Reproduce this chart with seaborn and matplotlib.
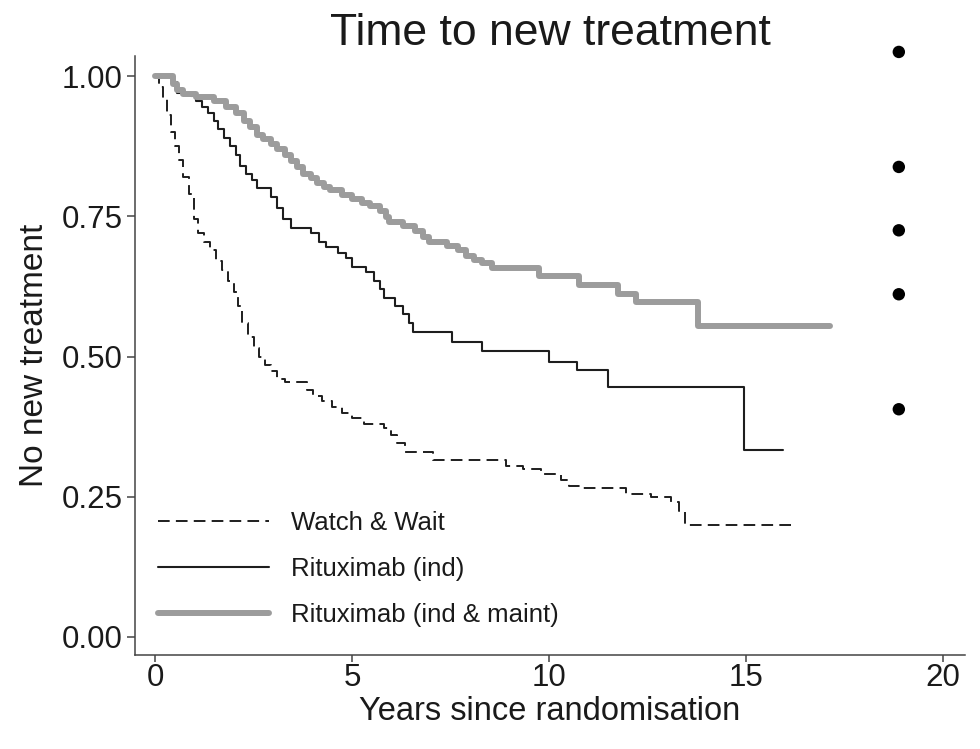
import matplotlib
matplotlib.use("Agg")
import matplotlib.pyplot as plt
import seaborn as sns
import pandas as pd

# Kaplan-Meier estimates: time (years) and proportion without new treatment
ww_time = [0.0, 0.1, 0.2, 0.3, 0.4, 0.5, 0.6, 0.7, 0.85, 1.0, 1.1, 1.25, 1.4, 1.55,
           1.7, 1.85, 2.0, 2.1, 2.2, 2.35, 2.5, 2.65, 2.8, 2.95, 3.1, 3.3, 3.85, 4.0,
           4.25, 4.5, 4.75, 5.0, 5.3, 5.8, 6.0, 6.15, 6.35, 7.05, 8.9, 9.35, 9.8,
           10.3, 10.5, 10.8, 11.95, 12.6, 13.1, 13.3, 13.45, 16.2]
ww_surv = [1.00, 0.98, 0.96, 0.93, 0.90, 0.875, 0.85, 0.82, 0.79, 0.745, 0.72, 0.705,
           0.69, 0.67, 0.655, 0.635, 0.615, 0.59, 0.56, 0.535, 0.515, 0.50, 0.485,
           0.475, 0.46, 0.455, 0.44, 0.43, 0.42, 0.41, 0.40, 0.39, 0.38, 0.372, 0.36,
           0.345, 0.33, 0.315, 0.305, 0.30, 0.29, 0.28, 0.27, 0.265, 0.255, 0.25,
           0.24, 0.225, 0.20, 0.20]

ri_time = [0.0, 0.45, 0.55, 0.9, 1.05, 1.2, 1.35, 1.5, 1.6, 1.75, 1.9, 2.05, 2.15,
           2.3, 2.45, 2.6, 2.95, 3.1, 3.25, 3.45, 3.95, 4.15, 4.35, 4.65, 4.85, 5.0,
           5.35, 5.55, 5.7, 5.8, 6.1, 6.3, 6.45, 6.55, 7.55, 8.3, 10.0, 10.7, 11.5,
           14.95, 15.95]
ri_surv = [1.00, 0.99, 0.97, 0.965, 0.955, 0.945, 0.935, 0.92, 0.905, 0.89, 0.875,
           0.86, 0.84, 0.825, 0.815, 0.80, 0.785, 0.765, 0.745, 0.73, 0.72, 0.705,
           0.695, 0.685, 0.675, 0.66, 0.65, 0.635, 0.62, 0.605, 0.59, 0.575, 0.56,
           0.543, 0.525, 0.51, 0.49, 0.476, 0.445, 0.333, 0.333]

rm_time = [0.0, 0.45, 0.55, 0.7, 1.05, 1.5, 1.8, 2.05, 2.25, 2.4, 2.6, 2.75, 2.95,
           3.1, 3.3, 3.45, 3.6, 3.75, 3.95, 4.1, 4.3, 4.45, 4.75, 5.0, 5.25, 5.45,
           5.7, 5.85, 5.95, 6.3, 6.6, 6.8, 6.95, 7.4, 7.7, 7.9, 8.1, 8.3, 8.55, 9.75,
           10.75, 11.75, 12.2, 13.78, 17.13]
rm_surv = [1.00, 0.985, 0.975, 0.968, 0.962, 0.955, 0.945, 0.935, 0.92, 0.91, 0.895,
           0.888, 0.878, 0.87, 0.86, 0.848, 0.838, 0.826, 0.818, 0.81, 0.803, 0.796,
           0.788, 0.781, 0.774, 0.768, 0.76, 0.748, 0.74, 0.733, 0.724, 0.713, 0.705,
           0.697, 0.69, 0.68, 0.672, 0.666, 0.658, 0.643, 0.628, 0.612, 0.598, 0.555,
           0.555]

series_labels = ["Watch & Wait", "Rituximab (ind)", "Rituximab (ind & maint)"]

# bullet markers at the right-hand side
bullet_x = [18.88, 18.88, 18.88, 18.88, 18.88]
bullet_y = [1.043, 0.838, 0.725, 0.611, 0.406]

x_ticks = [0, 5, 10, 15, 20]
y_ticks = [0.00, 0.25, 0.50, 0.75, 1.00]

sns.set_theme(style="ticks")
plt.rcParams["font.family"] = ["Liberation Sans", "DejaVu Sans"]
text_col = "#1a1a1a"

fig = plt.figure(figsize=(9.8, 7.49), dpi=100)
ax = fig.add_axes([0.1378, 0.1255, 0.8469, 0.7997])

styles = [
    dict(color="#1e1e1e", linewidth=1.4, linestyle=(0, (6, 3.2))),
    dict(color="#1e1e1e", linewidth=1.5, linestyle="-"),
    dict(color="#9c9c9c", linewidth=4.3, linestyle="-"),
]
for t, s, lab, st in zip([ww_time, ri_time, rm_time],
                         [ww_surv, ri_surv, rm_surv],
                         series_labels, styles):
    df = pd.DataFrame({"time": t, "surv": s})
    sns.lineplot(data=df, x="time", y="surv", ax=ax, drawstyle="steps-post",
                 label=lab, **st)

sns.scatterplot(x=bullet_x, y=bullet_y, ax=ax, color="black", s=80,
                edgecolor="none", clip_on=False, legend=False)

ax.set_xlim(-0.508, 20.56)
ax.set_ylim(-0.0321, 1.0357)
ax.set_xticks(x_ticks)
ax.set_xticklabels([str(v) for v in x_ticks])
ax.set_yticks(y_ticks)
ax.set_yticklabels([f"{v:.2f}" for v in y_ticks])

sns.despine(ax=ax)
for side in ("left", "bottom"):
    ax.spines[side].set_color("#444444")
    ax.spines[side].set_linewidth(1.1)
ax.tick_params(axis="both", direction="out", length=6, width=1.1,
               color="#444444", labelsize=22.5, labelcolor=text_col, pad=3)
ax.tick_params(axis="x", length=5, pad=1)

ax.set_xlabel("Years since randomisation", fontsize=23.5, color=text_col, labelpad=2)
ax.set_ylabel("No new treatment", fontsize=24, color=text_col, labelpad=8)
ax.set_title("Time to new treatment", fontsize=32, color=text_col, pad=8)

leg = ax.legend(loc="lower left", bbox_to_anchor=(0.0277, 0.047), frameon=False,
                fontsize=18.5, handlelength=4.3, handletextpad=0.86,
                labelspacing=0.85, borderaxespad=0, borderpad=0)
for txt in leg.get_texts():
    txt.set_color(text_col)

fig.savefig("out.png", dpi=100, facecolor="white")
